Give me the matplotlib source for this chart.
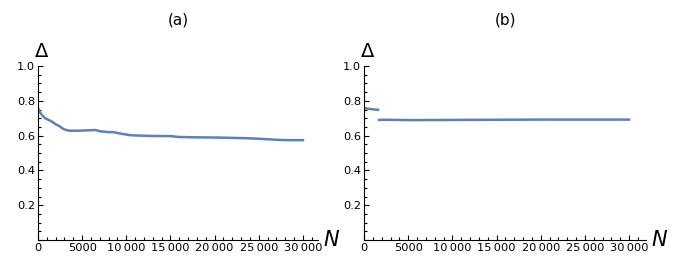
import numpy as np
import matplotlib.pyplot as plt
from matplotlib.ticker import MultipleLocator, FuncFormatter

# panel (a)
n_a = [0, 200, 500, 800, 1200, 1600, 2000, 2400, 2800, 3200, 3600, 4500, 5500, 6500, 7000,
       8000, 8500, 9500, 10500, 11500, 13000, 15000, 16000, 18000, 20000, 22000,
       23500, 25000, 27000, 28000, 30000]
d_a = [0.76, 0.735, 0.715, 0.70, 0.69, 0.68, 0.665, 0.655, 0.64, 0.632, 0.628, 0.628, 0.63, 0.632,
       0.625, 0.62, 0.62, 0.61, 0.602, 0.600, 0.598, 0.597, 0.592, 0.59, 0.589, 0.587,
       0.585, 0.582, 0.576, 0.574, 0.574]

# panel (b): jump near N = 1650 (no connecting segment)
n_b = [0, 400, 800, 1200, 1600, 1650, 1700, 2500, 5000, 10000, 15000, 20000, 25000, 30000]
d_b = [0.758, 0.755, 0.752, 0.750, 0.748, np.nan, 0.690, 0.691, 0.689, 0.690, 0.691, 0.692, 0.692, 0.692]

titles = ["(a)", "(b)"]
color = "#5e81b5"

fig = plt.figure(figsize=(6.78, 2.58), dpi=100)
ax_a = fig.add_axes([38 / 678, 1 - 240 / 258, 280 / 678, 174 / 258])
ax_b = fig.add_axes([364 / 678, 1 - 240 / 258, 282 / 678, 174 / 258])


def fmt(v, pos):
    if v == 0:
        return "0"
    s = "%d" % v
    if len(s) > 4:
        s = s[:-3] + "\u2009" + s[-3:]
    return s


for ax, xs, ys, t, xmax in [(ax_a, n_a, d_a, titles[0], 31700),
                            (ax_b, n_b, d_b, titles[1], 31920)]:
    ax.plot(xs, ys, color=color, lw=1.8)
    ax.set_xlim(0, xmax)
    ax.set_ylim(0, 1.0)
    for s in ["top", "right"]:
        ax.spines[s].set_visible(False)
    ax.spines["left"].set_linewidth(0.8)
    ax.spines["bottom"].set_linewidth(0.8)
    ax.xaxis.set_major_locator(MultipleLocator(5000))
    ax.xaxis.set_minor_locator(MultipleLocator(1000))
    ax.yaxis.set_major_locator(MultipleLocator(0.2))
    ax.yaxis.set_minor_locator(MultipleLocator(0.05))
    ax.xaxis.set_major_formatter(FuncFormatter(fmt))
    ax.yaxis.set_major_formatter(FuncFormatter(lambda v, p: "" if v < 0.1 else "%.1f" % v))
    ax.tick_params(which="both", direction="in", labelsize=8.2, pad=2, width=0.8)
    ax.tick_params(which="major", length=3.5)
    ax.tick_params(which="minor", length=2)
    ax.text(-0.01, 1.03, "\u0394", transform=ax.transAxes, fontsize=14, ha="left", va="bottom")
    ax.text(1.02, 0.0, "N", transform=ax.transAxes, fontsize=15, style="italic",
            ha="left", va="center")
    ax.set_title(t, fontsize=11, pad=30)

fig.savefig("out.png", dpi=100)
